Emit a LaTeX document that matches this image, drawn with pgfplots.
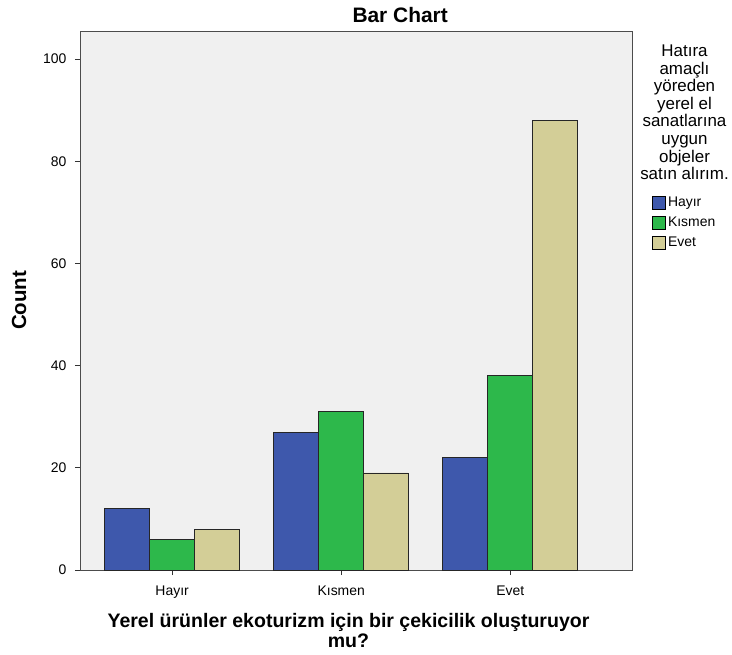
\documentclass[border=0pt]{standalone}
\usepackage{pgfplots}
\pgfplotsset{compat=1.18}
\usepackage{fontspec}
\setmainfont{Liberation Sans}
\definecolor{cblue}{HTML}{3E58AC}
\definecolor{cgreen}{HTML}{2DB84B}
\definecolor{cbeige}{HTML}{D3CE97}
\definecolor{cbg}{HTML}{F0F0F0}
\pgfplotsset{
  sq legend/.style={legend image code/.code={\draw[##1,draw=black,line width=0.8bp] (0bp,-6.5bp) rectangle (13bp,6.5bp);}},
}
\begin{document}
\begin{tikzpicture}[x=1bp,y=1bp]
\useasboundingbox (-80,-85) rectangle (652,570);
\begin{axis}[
  name=ax,
  at={(0,0)}, anchor=south west,
  width=552bp, height=539bp, scale only axis,
  ybar=0pt, bar width=0.266,
  xmin=-0.545, xmax=2.72,
  ymin=0, ymax=105.5,
  xtick={0,1,2}, xticklabels={Hayır,Kısmen,Evet},
  ytick={0,20,...,100},
  xtick pos=bottom, ytick pos=left,
  tick align=outside, major tick length=5bp,
  tick style={black!80, line width=0.8bp},
  axis line style={black!70, line width=0.8bp},
  axis background/.style={fill=cbg},
  tick label style={font=\fontsize{14}{16}\selectfont},
  xticklabel style={yshift=-7bp},
  yticklabel style={xshift=-5bp},
  /pgf/number format/assume math mode=true,
  ylabel={Count},
  ylabel style={font=\bfseries\fontsize{20.5}{22}\selectfont, at={(axis description cs:-0.1105,0.5)}, anchor=center},
  xlabel={Yerel ürünler ekoturizm için bir çekicilik oluşturuyor\\mu?},
  xlabel style={align=center, font=\bfseries\fontsize{19.6}{20}\selectfont, inner sep=0pt,
    at={(axis description cs:0.4864,-0.0798)}, anchor=north},
  title={Bar Chart},
  title style={font=\bfseries\fontsize{21}{23}\selectfont, at={(axis description cs:0.58,1.0148)}, anchor=base, inner sep=0pt, yshift=-5bp},
  legend style={at={(rel axis cs:1,1)}, anchor=north west, xshift=20bp, yshift=-164bp,
    draw=none, fill=none, inner sep=0pt, row sep=5bp,
    font=\fontsize{14}{16}\selectfont},
  legend cell align=left,
]
\addplot[fill=cblue, draw=black!85, line width=0.8bp, sq legend] coordinates {(0,12) (1,27) (2,22)};
\addplot[fill=cgreen, draw=black!85, line width=0.8bp, sq legend] coordinates {(0,6) (1,31) (2,38)};
\addplot[fill=cbeige, draw=black!85, line width=0.8bp, sq legend] coordinates {(0,8) (1,19) (2,88)};
\legend{Hayır,Kısmen,Evet}
\end{axis}
\node[anchor=north, align=center, font=\fontsize{17}{17.6}\selectfont, inner sep=0pt]
  at ([xshift=52.5bp,yshift=-14bp]ax.north east)
  {Hatıra\\amaçlı\\yöreden\\yerel el\\sanatlarına\\uygun\\objeler\\satın alırım.};
\end{tikzpicture}
\end{document}
